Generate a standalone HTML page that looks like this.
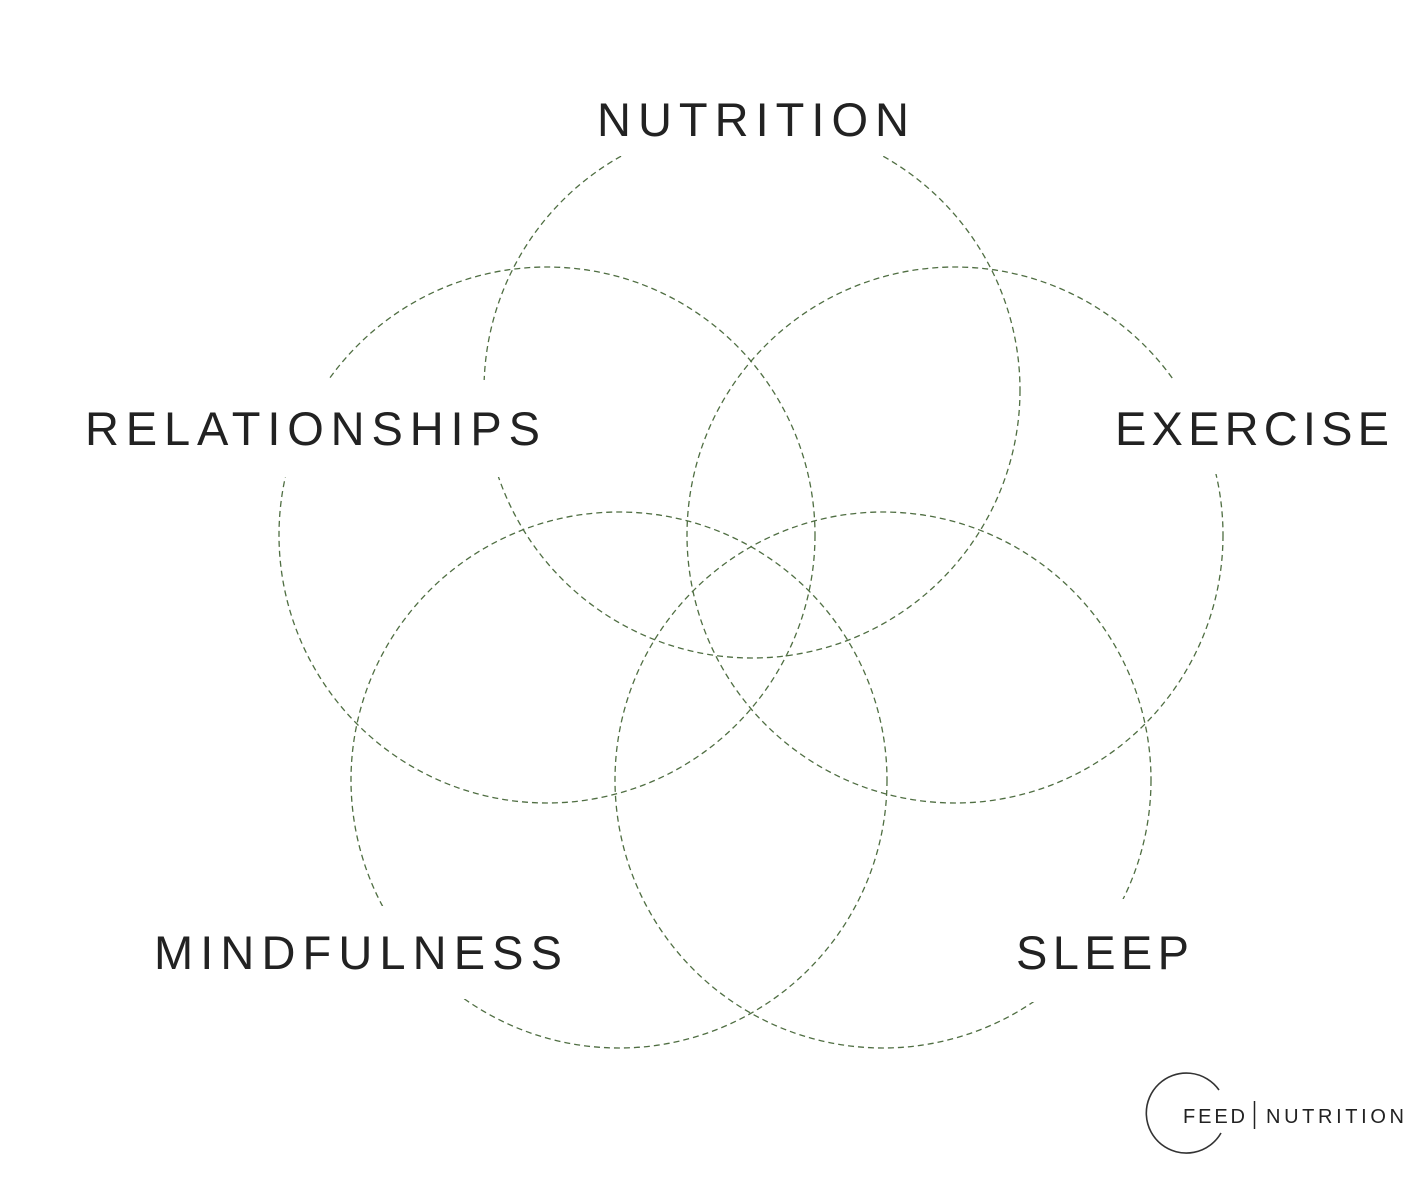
<!DOCTYPE html>
<html><head><meta charset="utf-8"><style>html,body{margin:0;padding:0;background:#fff}svg{display:block}</style></head>
<body>
<svg width="1425" height="1183" viewBox="0 0 1425 1183" xmlns="http://www.w3.org/2000/svg">
<g fill="none" stroke="#4f6e42" stroke-width="1.3" stroke-dasharray="6 4">
<circle cx="752" cy="390" r="268"/>
<circle cx="547" cy="535" r="268"/>
<circle cx="955" cy="535" r="268"/>
<circle cx="619" cy="780" r="268"/>
<circle cx="883" cy="780" r="268"/>
</g>
<g fill="#fff">
<rect x="560" y="0" width="380" height="156"/>
<rect x="75" y="380" width="470" height="97"/>
<rect x="1098" y="379" width="327" height="95"/>
<rect x="140" y="906" width="430" height="93"/>
<rect x="1000" y="899" width="200" height="103"/>
</g>
<g font-family="Liberation Sans, sans-serif" font-size="47" fill="#222">
<text x="597" y="136" textLength="312" lengthAdjust="spacing">NUTRITION</text>
<text x="85" y="445" textLength="455" lengthAdjust="spacing">RELATIONSHIPS</text>
<text x="1115" y="445" textLength="274" lengthAdjust="spacing">EXERCISE</text>
<text x="154" y="969" textLength="408" lengthAdjust="spacing">MINDFULNESS</text>
<text x="1016" y="969" textLength="173" lengthAdjust="spacing">SLEEP</text>
</g>
<path d="M1219 1090 A40 40 0 1 0 1221 1133" fill="none" stroke="#333" stroke-width="1.6"/>
<g font-family="Liberation Sans, sans-serif" font-size="20" fill="#222">
<text x="1183" y="1123" textLength="62" lengthAdjust="spacing">FEED</text>
<text x="1266" y="1123" textLength="138" lengthAdjust="spacing">NUTRITION</text>
</g>
<line x1="1254.5" y1="1101" x2="1254.5" y2="1129" stroke="#222" stroke-width="1.5"/>
</svg>
</body></html>
